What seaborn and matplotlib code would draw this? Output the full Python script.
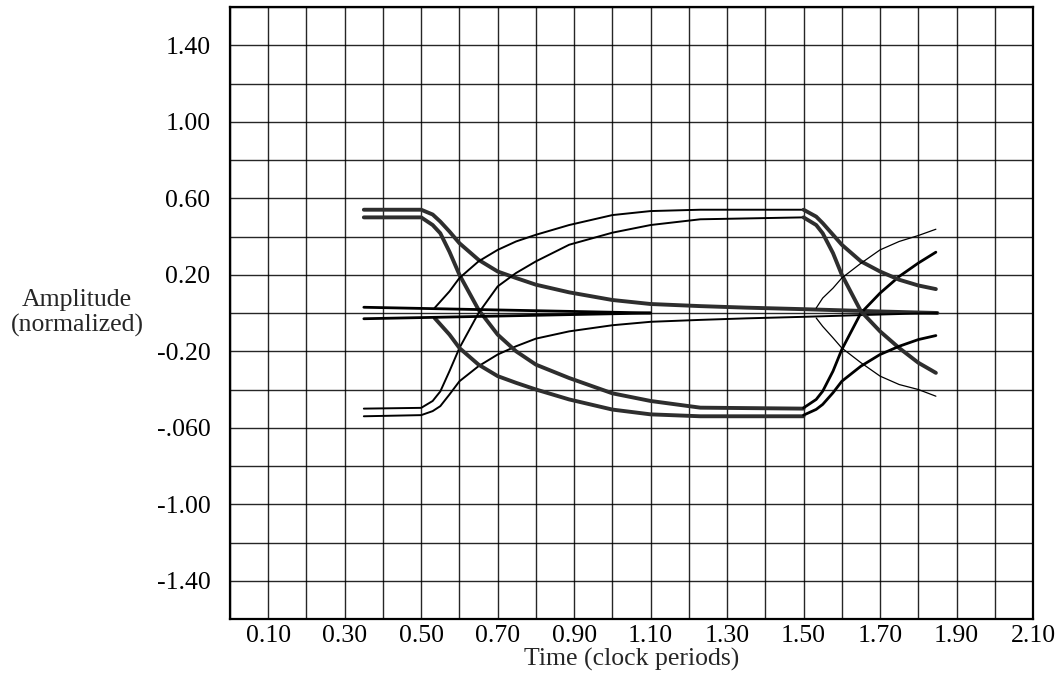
import numpy as np
import pandas as pd
import matplotlib
matplotlib.use("Agg")
import matplotlib.pyplot as plt
import seaborn as sns

# ---- axis ticks / labels ----
x_grid = [round(0.1 * i, 2) for i in range(0, 22)]
x_labeled = [0.1, 0.3, 0.5, 0.7, 0.9, 1.1, 1.3, 1.5, 1.7, 1.9, 2.1]
x_labels = ["0.10", "0.30", "0.50", "0.70", "0.90", "1.10", "1.30", "1.50", "1.70", "1.90", "2.10"]
y_grid = [round(-1.6 + 0.2 * i, 2) for i in range(0, 17)]
y_labeled = [1.4, 1.0, 0.6, 0.2, -0.2, -0.6, -1.0, -1.4]
y_labels = ["1.40", "1.00", "0.60", "0.20", "-0.20", "-.060", "-1.00", "-1.40"]

# ---- traces (time in clock periods, normalized amplitude) ----
# high 0.54 -> slow descent toward centre
t_a = [0.35, 0.50, 0.53, 0.55, 0.574, 0.60, 0.65, 0.70, 0.748, 0.80, 0.887, 1.00, 1.10, 1.23, 1.35, 1.50, 1.60, 1.70, 1.85]
v_a = [0.54, 0.54, 0.515, 0.478, 0.426, 0.365, 0.278, 0.217, 0.183, 0.148, 0.108, 0.068, 0.047, 0.036, 0.028, 0.02, 0.014, 0.008, 0.0]
# low -0.54 -> slow rise toward centre
t_d = [0.35, 0.50, 0.53, 0.55, 0.574, 0.60, 0.65, 0.70, 0.748, 0.80, 0.887, 1.00, 1.10, 1.23, 1.35, 1.50, 1.60, 1.70, 1.85]
v_d = [-0.54, -0.534, -0.513, -0.487, -0.426, -0.357, -0.278, -0.217, -0.174, -0.134, -0.096, -0.064, -0.046, -0.036, -0.028, -0.02, -0.014, -0.008, 0.0]
# high 0.50 -> steep fall -> -0.50
t_b1 = [0.35, 0.50, 0.53, 0.55, 0.574, 0.60, 0.65, 0.70, 0.748, 0.80, 0.887, 1.00, 1.10, 1.23, 1.50]
v_b1 = [0.50, 0.50, 0.46, 0.417, 0.32, 0.20, 0.017, -0.113, -0.20, -0.27, -0.34, -0.42, -0.46, -0.495, -0.50]
# -0.50 -> steep rise (second period)
t_b2 = [1.50, 1.533, 1.55, 1.577, 1.60, 1.65, 1.70, 1.75, 1.80, 1.846]
v_b2 = [-0.496, -0.452, -0.409, -0.304, -0.191, 0.0, 0.104, 0.191, 0.261, 0.318]
# low -0.50 -> steep rise -> 0.50
t_c1 = [0.35, 0.50, 0.53, 0.55, 0.574, 0.60, 0.65, 0.70, 0.748, 0.80, 0.887, 1.00, 1.10, 1.23, 1.50]
v_c1 = [-0.50, -0.496, -0.46, -0.41, -0.304, -0.183, 0.0, 0.139, 0.209, 0.27, 0.357, 0.42, 0.46, 0.49, 0.50]
# 0.50 -> steep fall (second period)
t_c2 = [1.50, 1.533, 1.55, 1.577, 1.60, 1.65, 1.70, 1.75, 1.80, 1.846]
v_c2 = [0.50, 0.46, 0.417, 0.313, 0.20, 0.009, -0.096, -0.183, -0.26, -0.313]
# centre -> slow rise -> 0.54
t_e1 = [0.535, 0.574, 0.60, 0.65, 0.70, 0.748, 0.80, 0.887, 1.00, 1.10, 1.23, 1.50]
v_e1 = [0.026, 0.113, 0.183, 0.27, 0.33, 0.374, 0.409, 0.46, 0.512, 0.533, 0.54, 0.54]
# 0.54 -> slow fall (second period)
t_e2 = [1.50, 1.533, 1.55, 1.577, 1.60, 1.65, 1.70, 1.75, 1.80, 1.846]
v_e2 = [0.54, 0.504, 0.47, 0.409, 0.357, 0.27, 0.217, 0.174, 0.144, 0.125]
# centre -> slow fall -> -0.54
t_f1 = [0.535, 0.574, 0.60, 0.65, 0.70, 0.748, 0.80, 0.887, 1.00, 1.10, 1.23, 1.50]
v_f1 = [-0.026, -0.113, -0.183, -0.27, -0.33, -0.365, -0.40, -0.452, -0.505, -0.53, -0.54, -0.54]
# -0.54 -> slow rise (second period)
t_f2 = [1.50, 1.533, 1.55, 1.577, 1.60, 1.65, 1.70, 1.75, 1.80, 1.846]
v_f2 = [-0.534, -0.504, -0.478, -0.417, -0.357, -0.278, -0.217, -0.174, -0.139, -0.118]
# centre taper lines, first period
t_cu = [0.35, 1.10]
v_cu = [0.03, 0.0]
t_cl = [0.35, 1.10]
v_cl = [-0.03, 0.0]
# centre branches, second period
t_gu = [1.533, 1.55, 1.577, 1.60, 1.65, 1.70, 1.75, 1.80, 1.846]
v_gu = [0.026, 0.078, 0.13, 0.183, 0.26, 0.33, 0.374, 0.405, 0.438]
t_gl = [1.533, 1.55, 1.577, 1.60, 1.65, 1.70, 1.75, 1.80, 1.846]
v_gl = [-0.026, -0.07, -0.13, -0.183, -0.26, -0.33, -0.374, -0.40, -0.435]

W = 1060 / 100
H = 677 / 100

sns.set_style("white")
plt.rcParams["font.family"] = ["Liberation Serif", "DejaVu Serif"]

fig = plt.figure(figsize=(W, H), dpi=100)
ax = fig.add_axes([230 / 1060, 1 - 619 / 677, (1033 - 230) / 1060, (619 - 7) / 677])

THICK = (2.8, "#2e2e2e")
MED = (2.0, "black")
THIN = (1.4, "black")
HAIR = (0.9, "black")

traces = [
    (t_a, v_a) + THICK,
    (t_d, v_d) + THIN,
    (t_b1, v_b1) + THICK,
    (t_b2, v_b2) + MED,
    (t_c1, v_c1) + THIN,
    (t_c2, v_c2) + THICK,
    (t_e1, v_e1) + THIN,
    (t_e2, v_e2) + THICK,
    (t_f1, v_f1) + THICK,
    (t_f2, v_f2) + MED,
    (t_cu, v_cu) + MED,
    (t_cl, v_cl) + MED,
    (t_gu, v_gu) + HAIR,
    (t_gl, v_gl) + HAIR,
]
for tx, vy, lw, col in traces:
    df = pd.DataFrame({"t": tx, "v": vy})
    sns.lineplot(data=df, x="t", y="v", sort=False, estimator=None,
                 color=col, linewidth=lw, ax=ax, zorder=3)

ax.set_xlim(0, 2.1)
ax.set_ylim(-1.6, 1.6)

ax.set_xticks(x_grid)
ax.set_xticklabels([x_labels[x_labeled.index(v)] if v in x_labeled else "" for v in x_grid])
ax.set_yticks(y_grid)
ax.set_yticklabels([y_labels[y_labeled.index(v)] if v in y_labeled else "" for v in y_grid])
ax.tick_params(axis="both", length=0, labelsize=18.5, colors="black")
ax.tick_params(axis="x", pad=4)
ax.tick_params(axis="y", pad=14)

ax.grid(True, color="black", linewidth=1.0, alpha=0.85)
ax.set_axisbelow(True)
for s in ax.spines.values():
    s.set_visible(True)
    s.set_color("black")
    s.set_linewidth(1.6)

ax.set_xlabel("Time (clock periods)", fontsize=18.5, labelpad=1)
ax.set_ylabel("Amplitude\n(normalized)", fontsize=18.5, rotation=0,
              ha="center", va="center", multialignment="center")
ax.yaxis.set_label_coords((77 - 230) / (1033 - 230), 0.5)

fig.savefig("out.png", dpi=100)
